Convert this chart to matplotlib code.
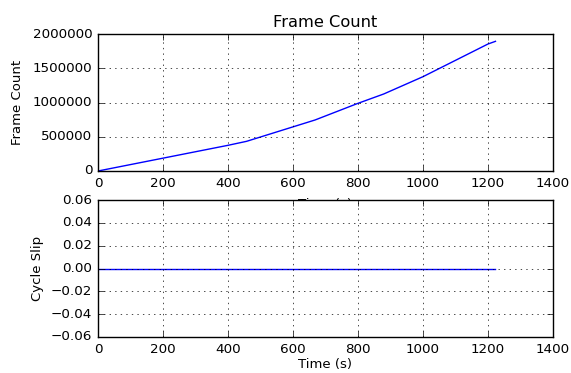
import matplotlib
matplotlib.use('Agg')
import matplotlib.pyplot as plt
import numpy as np

plt.style.use('classic')

# данные
time_s = [0, 400, 457, 668, 800, 879, 1000, 1200, 1223]
frame_count = [0, 375000, 433000, 745000, 988000, 1124000, 1377000, 1854000, 1893000]
slip_time = [0, 1223]
cycle_slip = [0, 0]

fig = plt.figure(figsize=(5.71, 3.73), dpi=100)
fig.patch.set_facecolor('white')

ax1 = fig.add_axes([98 / 571, 1 - 171 / 373, 455 / 571, 137 / 373])
ax1.plot(time_s, frame_count, color='b', lw=1)
ax1.set_title('Frame Count', fontsize=11.7)
ax1.set_xlabel('Time (s)', fontsize=9.5, labelpad=6)
ax1.set_ylabel('Frame Count', fontsize=9.5)
ax1.yaxis.set_label_coords(-74 / 455, 0.5)
ax1.set_xlim(0, 1400)
ax1.set_ylim(0, 2000000)
ax1.ticklabel_format(style='plain', axis='y', useOffset=False)
ax1.grid(True)

ax2 = fig.add_axes([98 / 571, 1 - 337 / 373, 455 / 571, 137 / 373])
ax2.plot(slip_time, cycle_slip, color='b', lw=1)
ax2.set_xlabel('Time (s)', fontsize=9.5, labelpad=2)
ax2.set_ylabel('Cycle Slip', fontsize=9.5)
ax2.yaxis.set_label_coords(-54 / 455, 0.5)
ax2.set_xlim(0, 1400)
ax2.set_ylim(-0.06, 0.06)
ax2.set_yticks(np.arange(-0.06, 0.061, 0.02))
ax2.grid(True)

for ax in (ax1, ax2):
    ax.tick_params(labelsize=9.7)

fig.savefig('out.png', dpi=100, facecolor='white')
